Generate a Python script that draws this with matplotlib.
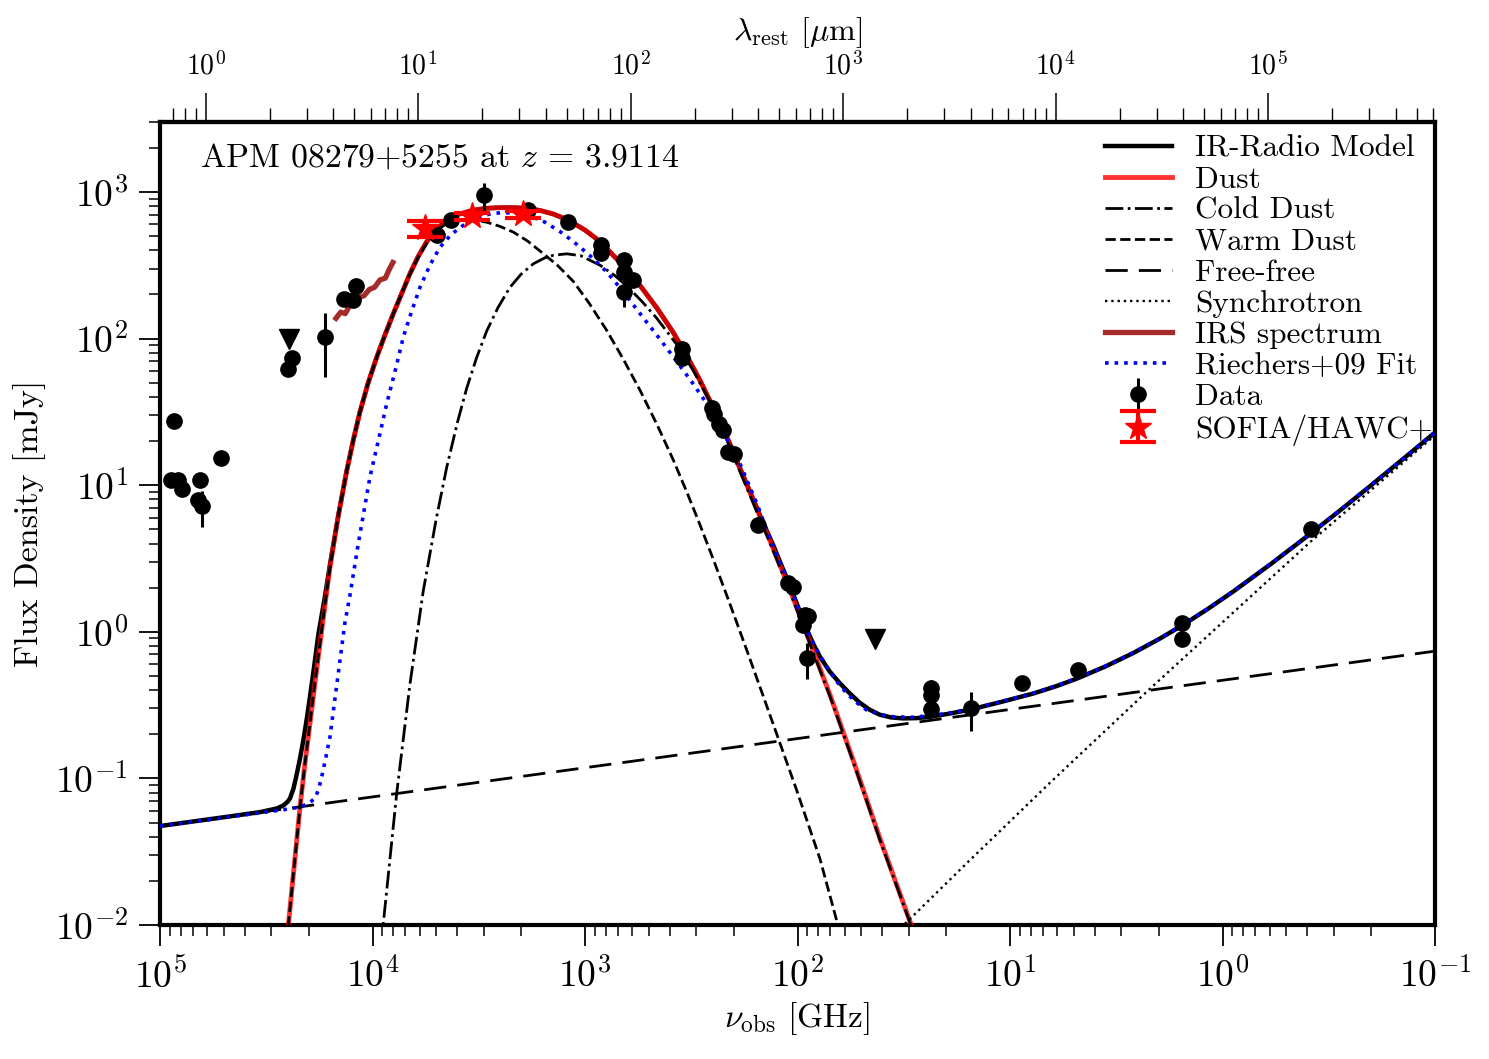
import numpy as np
import matplotlib
matplotlib.use("Agg")
import matplotlib.pyplot as plt

plt.rcParams['font.family'] = ['serif']
plt.rcParams['font.serif'] = ['cmr10', 'DejaVu Serif']
plt.rcParams['mathtext.fontset'] = 'cm'
plt.rcParams['axes.formatter.use_mathtext'] = True
plt.rcParams['axes.unicode_minus'] = False

Z = 3.9114

# ---- model curves (log10 nu_obs [GHz], log10 S [mJy]) ----
dust_lognu = [4.41, 4.396, 4.368, 4.341, 4.318, 4.294, 4.270, 4.247, 4.224, 4.200, 4.160, 4.121,
              4.090, 4.059, 4.020, 3.980, 3.940, 3.902, 3.862, 3.824, 3.785, 3.745, 3.700, 3.651,
              3.600, 3.526, 3.460, 3.400, 3.330, 3.274, 3.212, 3.150, 3.079, 3.000, 2.950, 2.898,
              2.820, 2.741, 2.660, 2.584, 2.520, 2.459, 2.400, 2.333, 2.270, 2.208, 2.160, 2.114,
              2.035, 1.957, 1.847, 1.737, 1.612, 1.479, 1.43]
dust_logS = [-2.21, -2.0, -1.59, -1.194, -0.90, -0.62, -0.34, -0.08, 0.18, 0.44, 0.80, 1.10,
             1.31, 1.50, 1.70, 1.874, 2.03, 2.170, 2.31, 2.442, 2.56, 2.660, 2.745, 2.806,
             2.845, 2.876, 2.889, 2.893, 2.893, 2.888, 2.874, 2.850, 2.808, 2.740, 2.685, 2.615,
             2.495, 2.362, 2.205, 2.040, 1.880, 1.715, 1.540, 1.330, 1.110, 0.897, 0.730, 0.565,
             0.284, -0.012, -0.430, -0.880, -1.410, -1.943, -2.14]

tot_lognu = [5.0, 4.70, 4.529, 4.45, 4.42, 4.40, 4.388, 4.372, 4.357, 4.342, 4.326, 4.31, 4.294,
             4.275, 4.255, 4.224, 4.200, 4.160, 4.121, 4.090, 4.059, 4.020, 3.980, 3.940, 3.902,
             3.862, 3.824, 3.785, 3.745, 3.700, 3.651, 3.600, 3.526, 3.460, 3.400, 3.330, 3.274,
             3.212, 3.150, 3.079, 3.000, 2.950, 2.898, 2.820, 2.741, 2.660, 2.584, 2.520, 2.459,
             2.400, 2.333, 2.270, 2.208, 2.160, 2.114, 2.035, 1.957, 1.925, 1.894, 1.85, 1.800,
             1.75, 1.706, 1.66, 1.612, 1.56, 1.502, 1.44, 1.376, 1.28, 1.185, 1.04, 0.890, 0.78,
             0.681, 0.55, 0.420, 0.30, 0.189, 0.07, -0.051, -0.23, -0.415, -0.55, -0.679, -0.84,
             -1.0]
tot_logS = [-1.325, -1.265, -1.230, -1.205, -1.185, -1.16, -1.136, -1.07, -0.975, -0.87, -0.745,
            -0.60, -0.44, -0.24, -0.02, 0.24, 0.46, 0.80, 1.10, 1.31, 1.50, 1.70, 1.874, 2.03,
            2.170, 2.31, 2.442, 2.56, 2.660, 2.745, 2.806, 2.845, 2.876, 2.889, 2.893, 2.893,
            2.888, 2.874, 2.850, 2.808, 2.740, 2.685, 2.615, 2.495, 2.362, 2.205, 2.040, 1.880,
            1.715, 1.540, 1.332, 1.114, 0.903, 0.738, 0.590, 0.310, 0.020, -0.085, -0.171, -0.268,
            -0.352, -0.426, -0.485, -0.532, -0.566, -0.584, -0.591, -0.589, -0.580, -0.557, -0.530,
            -0.478, -0.421, -0.370, -0.317, -0.236, -0.145, -0.051, 0.044, 0.155, 0.275, 0.465,
            0.670, 0.824, 0.975, 1.167, 1.359]

warm_lognu = [4.41, 4.396, 4.368, 4.341, 4.318, 4.294, 4.270, 4.247, 4.224, 4.200, 4.160, 4.121,
              4.090, 4.059, 4.020, 3.980, 3.940, 3.902, 3.862, 3.824, 3.785, 3.745, 3.700, 3.651,
              3.600, 3.540, 3.463, 3.400, 3.337, 3.270, 3.196, 3.130, 3.055, 2.980, 2.898, 2.820,
              2.741, 2.660, 2.584, 2.520, 2.459, 2.390, 2.318, 2.240, 2.161, 2.080, 2.004, 1.894,
              1.81, 1.79]
warm_logS = [-2.21, -2.0, -1.59, -1.194, -0.90, -0.62, -0.34, -0.08, 0.18, 0.44, 0.80, 1.10,
             1.31, 1.50, 1.70, 1.874, 2.03, 2.170, 2.31, 2.440, 2.555, 2.650, 2.735, 2.785,
             2.806, 2.810, 2.794, 2.765, 2.726, 2.665, 2.579, 2.500, 2.390, 2.240, 2.056, 1.860,
             1.647, 1.410, 1.170, 0.950, 0.730, 0.470, 0.190, -0.120, -0.440, -0.770, -1.080,
             -1.550, -2.0, -2.1]

cold_lognu = [3.96, 3.949, 3.886, 3.824, 3.761, 3.700, 3.651, 3.600, 3.557, 3.510, 3.463, 3.410,
              3.353, 3.300, 3.243, 3.190, 3.149, 3.086, 3.020, 2.929, 2.860, 2.804, 2.730, 2.663,
              2.600, 2.553, 2.490, 2.427, 2.380, 2.333, 2.270, 2.208, 2.160, 2.114, 2.035, 1.957,
              1.847, 1.737, 1.612, 1.479, 1.43]
cold_logS = [-2.15, -1.988, -1.10, -0.36, 0.28, 0.77, 1.12, 1.43, 1.66, 1.87, 2.05, 2.21,
             2.35, 2.44, 2.51, 2.55, 2.568, 2.578, 2.565, 2.50, 2.43, 2.36, 2.25, 2.14,
             2.02, 1.93, 1.78, 1.61, 1.47, 1.31, 1.09, 0.875, 0.71, 0.55, 0.27, -0.025,
             -0.44, -0.89, -1.42, -1.95, -2.15]

ff_lognu = [5.0, -1.0]
ff_logS = [-1.325, -0.132]

sync_lognu = [1.60, 1.50, 1.204, 0.812, 0.35, -0.415, -1.0]
sync_logS = [-2.14, -2.0, -1.579, -1.03, -0.40, 0.615, 1.340]

riech_lognu = [5.0, 4.529, 4.40, 4.341, 4.30, 4.271, 4.255, 4.239, 4.220, 4.200, 4.177, 4.153,
               4.130, 4.106, 4.067, 4.012, 3.970, 3.933, 3.890, 3.855, 3.815, 3.776, 3.730, 3.682,
               3.630, 3.573, 3.500, 3.431, 3.350, 3.274, 3.190, 3.118, 3.055, 2.980, 2.898, 2.820,
               2.741, 2.660, 2.584, 2.500, 2.427, 2.350, 2.271, 2.190, 2.114, 2.051, 1.957, 1.910,
               1.863, 1.815, 1.768, 1.720, 1.674, 1.610, 1.549, 1.460, 1.376, 1.28, 1.185, 1.04,
               0.890, 0.78, 0.681, 0.55, 0.420, 0.30, 0.189, 0.07, -0.051, -0.23, -0.415, -0.55,
               -0.679, -0.84, -1.0]
riech_logS = [-1.325, -1.235, -1.21, -1.195, -1.17, -1.136, -1.08, -0.989, -0.86, -0.716, -0.46,
              -0.194, 0.06, 0.25, 0.60, 1.056, 1.32, 1.556, 1.80, 2.010, 2.19, 2.351, 2.50, 2.624,
              2.71, 2.772, 2.830, 2.856, 2.858, 2.845, 2.795, 2.730, 2.662, 2.570, 2.455, 2.320,
              2.170, 2.020, 1.874, 1.710, 1.556, 1.360, 1.147, 0.870, 0.579, 0.374, 0.011, -0.12,
              -0.239, -0.34, -0.421, -0.485, -0.534, -0.565, -0.580, -0.583, -0.572, -0.553,
              -0.527, -0.476, -0.419, -0.368, -0.315, -0.234, -0.143, -0.049, 0.046, 0.157,
              0.277, 0.467, 0.672, 0.826, 0.977, 1.169, 1.361]

irs_lognu = [4.172, 4.150, 4.128, 4.105, 4.085, 4.060, 4.040, 4.015, 3.990, 3.965, 3.940, 3.920, 3.904]
irs_logS = [2.138, 2.180, 2.170, 2.232, 2.240, 2.282, 2.292, 2.335, 2.350, 2.400, 2.412, 2.475, 2.519]

# ---- photometry ----
data_lognu = [4.933, 4.950, 4.914, 4.898, 4.812, 4.820, 4.804, 4.713, 4.396, 4.378, 4.224, 4.134,
              4.090, 4.078, 3.695, 3.631, 3.475, 3.267, 3.079, 2.926, 2.926, 2.816, 2.816, 2.776,
              2.816, 2.542, 2.542, 2.401, 2.393, 2.369, 2.349, 2.326, 2.299, 2.184, 2.043, 2.020,
              1.965, 1.973, 1.952, 1.954, 1.373, 1.373, 1.373, 1.185, 0.945, 0.681, 0.189, 0.189,
              -0.415]
data_logS = [1.436, 1.038, 1.033, 0.972, 1.033, 0.897, 0.856, 1.188, 1.790, 1.867, 2.010, 2.272,
             2.265, 2.356, 2.703, 2.811, 2.976, 2.874, 2.794, 2.635, 2.583, 2.533, 2.453, 2.397,
             2.317, 1.931, 1.870, 1.529, 1.488, 1.420, 1.374, 1.226, 1.215, 0.731, 0.333, 0.306,
             0.113, 0.045, 0.106, -0.182, -0.386, -0.432, -0.530, -0.523, -0.352, -0.262, 0.061,
             -0.046, 0.704]
data_err = [0, 0, 0, 1.0, 0, 0, 2.0, 0, 0, 0, 48, 0,
            0, 0, 0, 0, 210, 0, 0, 0, 0, 0, 0, 0,
            43, 0, 0, 0, 0, 0, 0, 0, 0, 0, 0, 0,
            0.1, 0, 0, 0.18, 0.06, 0, 0, 0.09, 0, 0, 0, 0.1,
            0.4]

ul_lognu = [4.393, 1.635]
ul_logS = [2.000, -0.052]

sofia_lognu = [3.753, 3.533, 3.290]
sofia_logS = [2.751, 2.833, 2.847]
sofia_err = [70, 40, 40]


def p(a):
    return 10 ** np.asarray(a, dtype=float)


fig = plt.figure(figsize=(14.89, 10.59), dpi=100)
ax = fig.add_axes([160 / 1489, 1 - 925 / 1059, 1275 / 1489, 803 / 1059])

ax.set_xscale('log')
ax.set_yscale('log')

h_tot, = ax.plot(p(tot_lognu), p(tot_logS), color='black', lw=3.2, zorder=3, label='IR-Radio Model')
h_dust, = ax.plot(p(dust_lognu), p(dust_logS), color='red', alpha=0.8, lw=3.5, zorder=4, label='Dust')
h_cold, = ax.plot(p(cold_lognu), p(cold_logS), color='black', ls='-.', lw=2.0, zorder=5, label='Cold Dust')
h_warm, = ax.plot(p(warm_lognu), p(warm_logS), color='black', ls='--', lw=2.0, zorder=5, label='Warm Dust')
h_ff, = ax.plot(p(ff_lognu), p(ff_logS), color='black', lw=2.0, dashes=(8, 4), zorder=5, label='Free-free')
h_sync, = ax.plot(p(sync_lognu), p(sync_logS), color='black', ls=':', lw=1.7, zorder=5, label='Synchrotron')
h_irs, = ax.plot(p(irs_lognu), p(irs_logS), color='#a52a2a', lw=3.8, zorder=6, label='IRS spectrum')
h_rie, = ax.plot(p(riech_lognu), p(riech_logS), color='blue', ls=':', lw=2.6, zorder=6, label='Riechers+09 Fit')

h_data = ax.errorbar(p(data_lognu), p(data_logS), yerr=data_err, fmt='o', color='black',
                     ms=11, elinewidth=2.2, capsize=0, zorder=8, label='Data')
ax.plot(p(ul_lognu), p(ul_logS), 'v', color='black', ms=14, zorder=8)
h_sof = ax.errorbar(p(sofia_lognu), p(sofia_logS), yerr=sofia_err, fmt='*', color='red',
                    ms=20, elinewidth=3, capsize=13, capthick=3, zorder=9, label='SOFIA/HAWC+')

ax.set_xlim(1e5, 1e-1)
ax.set_ylim(1e-2, 3e3)

ax.set_xlabel(r'$\nu_{\rm obs}$ [GHz]', fontsize=24, labelpad=4)
ax.set_ylabel('Flux Density [mJy]', fontsize=24.5, labelpad=6)

for s in ax.spines.values():
    s.set_linewidth(3)
ax.tick_params(which='major', direction='out', length=15, width=1.3, labelsize=27, pad=8,
               top=False, right=False)
ax.tick_params(which='minor', direction='out', length=8, width=1.1, top=False, right=False)


def nu2lam(x):
    x = np.asarray(x, dtype=float)
    with np.errstate(divide='ignore', invalid='ignore'):
        return 299792.458 / (1 + Z) / x


sec = ax.secondary_xaxis('top', functions=(nu2lam, nu2lam))
sec.set_xlabel(r'$\lambda_{\rm rest}$ [$\mu$m]', fontsize=23, labelpad=8)
sec.tick_params(which='major', direction='out', length=21, width=1.1, labelsize=20, pad=9)
sec.tick_params(which='minor', direction='out', length=10, width=1.0)
sec.spines['top'].set_linewidth(3)

ax.text(0.031, 0.956, r'APM 08279+5255 at $z\,=\,3.9114$', transform=ax.transAxes,
        fontsize=24.3, va='center', ha='left')

handles = [h_tot, h_dust, h_cold, h_warm, h_ff, h_sync, h_irs, h_rie, h_data, h_sof]
labels = [h.get_label() for h in handles]
ax.legend(handles, labels, loc='upper left', frameon=False, fontsize=22.5,
          handlelength=2.15, handletextpad=0.74, labelspacing=0.1,
          borderaxespad=0.0, bbox_to_anchor=(0.731, 1.0))

fig.savefig('out.png', dpi=100)
